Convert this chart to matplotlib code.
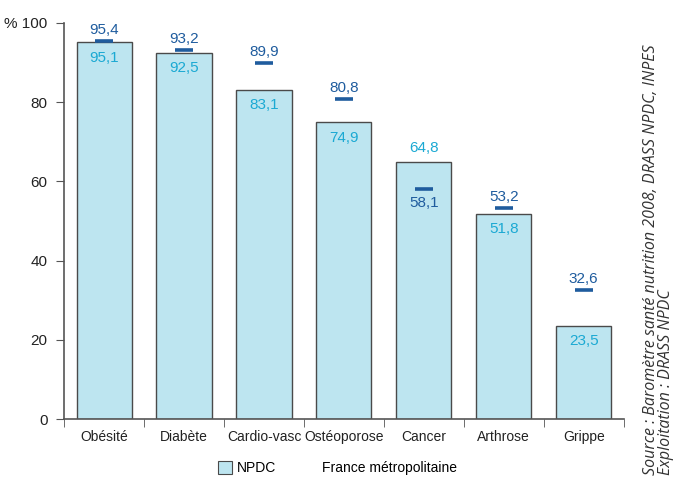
import numpy as np
import matplotlib
matplotlib.use('Agg')
import matplotlib.pyplot as plt
from matplotlib.patches import Patch
from matplotlib.lines import Line2D

plt.rcParams['font.family'] = ['Liberation Sans Narrow', 'Liberation Sans', 'DejaVu Sans']

categories = ['Obésité', 'Diabète', 'Cardio-vasc', 'Ostéoporose', 'Cancer', 'Arthrose', 'Grippe']
npdc = [95.1, 92.5, 83.1, 74.9, 64.8, 51.8, 23.5]
france = [95.4, 93.2, 89.9, 80.8, 58.1, 53.2, 32.6]

bar_color = '#BDE5F0'
npdc_txt = '#1BA9D3'
france_col = '#1F5C9E'

def fr(v):
    return f'{v:.1f}'.replace('.', ',')

fig = plt.figure(figsize=(6.75, 4.79), dpi=100)
ax = fig.add_axes([0.095, 0.125, 0.829, 0.827])

x = np.arange(len(categories))
ax.bar(x, npdc, width=0.69, color=bar_color, edgecolor='#4a4a4a', linewidth=1.0, zorder=2)
ax.scatter(x, france, marker='_', s=170, linewidths=2.6, color=france_col, zorder=3)

for i in range(len(categories)):
    if france[i] >= npdc[i]:
        ax.annotate(fr(france[i]), (x[i], france[i]), xytext=(0, 3), textcoords='offset points',
                    ha='center', va='bottom', color=france_col, fontsize=11)
        ax.annotate(fr(npdc[i]), (x[i], npdc[i]), xytext=(0, -6), textcoords='offset points',
                    ha='center', va='top', color=npdc_txt, fontsize=11)
    else:
        ax.annotate(fr(npdc[i]), (x[i], npdc[i]), xytext=(0, 5), textcoords='offset points',
                    ha='center', va='bottom', color=npdc_txt, fontsize=11)
        ax.annotate(fr(france[i]), (x[i], france[i]), xytext=(0, -5), textcoords='offset points',
                    ha='center', va='top', color=france_col, fontsize=11)

ax.set_xlim(-0.5, len(categories) - 0.5)
ax.set_ylim(0, 100)
ax.set_yticks([0, 20, 40, 60, 80, 100])
ax.set_yticklabels(['0', '20', '40', '60', '80', '% 100'])
ax.set_xticks(x)
ax.set_xticklabels(categories)
ax.set_xticks(np.arange(-0.5, len(categories)), minor=True)
ax.tick_params(axis='x', which='major', length=0, pad=8, labelsize=10, labelcolor='#222222')
ax.tick_params(axis='x', which='minor', length=6, color='#555555', direction='out')
ax.tick_params(axis='y', length=6, color='#555555', labelsize=11, labelcolor='#222222', pad=6)

for s in ['top', 'right']:
    ax.spines[s].set_visible(False)
for s in ['left', 'bottom']:
    ax.spines[s].set_color('#555555')
    ax.spines[s].set_linewidth(1.2)

handles = [Patch(facecolor=bar_color, edgecolor='#4a4a4a', linewidth=0.8),
           Line2D([], [], linestyle='none')]
fig.legend(handles, ['NPDC', 'France métropolitaine'], loc='center', bbox_to_anchor=(0.5, 0.022),
           ncol=2, frameon=False, fontsize=10, handlelength=1.0, handleheight=1.0,
           handletextpad=0.3, columnspacing=2.0)

fig.text(0.976, 0.008, 'Source : Baromètre santé nutrition 2008, DRASS NPDC, INPES\nExploitation : DRASS NPDC',
         rotation=90, ha='center', va='bottom', multialignment='left',
         fontsize=11.5, style='italic', family='Open Sans', color='#333333', linespacing=0.95)

fig.savefig('out.png', dpi=100)
